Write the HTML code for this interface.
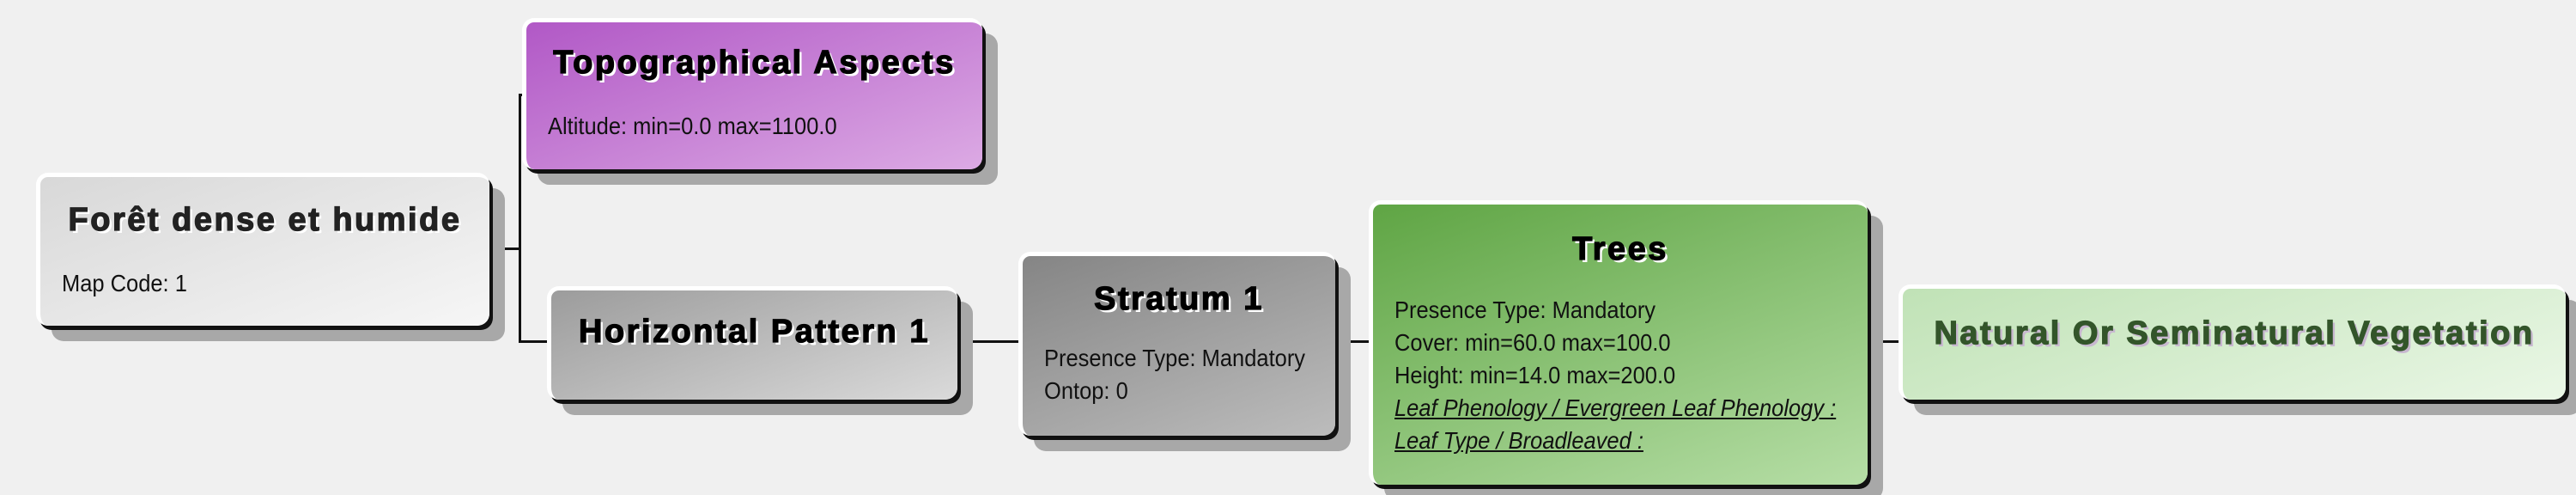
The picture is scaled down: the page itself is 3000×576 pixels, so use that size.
<!DOCTYPE html>
<html><head><meta charset="utf-8"><style>
body{margin:0;width:3000px;height:576px;background:#f0f0f0;position:relative;overflow:hidden;font-family:"Liberation Sans",sans-serif}
.b{position:absolute;border-radius:14px;border-top:5px solid #fff;border-left:5px solid #fff;box-sizing:border-box;box-shadow:4px 5px 0 #111,18px 18px 0 #a8a8a8}
.t{position:absolute;left:-20px;right:-20px;text-align:center;font-weight:bold;font-size:38px;letter-spacing:2.5px;-webkit-text-stroke:1.3px currentColor;color:#000;text-shadow:3px 3px 0 #fff}
.p{position:absolute;font-size:28px;color:#111;line-height:38px;transform:scaleX(0.91);transform-origin:0 0;white-space:nowrap}
.l{position:absolute;background:#111}
i{text-decoration:underline}
</style></head><body>
<div class="l" style="left:570px;top:288px;width:36px;height:3px"></div>
<div class="l" style="left:604px;top:109px;width:3px;height:290px"></div>
<div class="l" style="left:604px;top:109px;width:8px;height:3px"></div>
<div class="l" style="left:604px;top:396px;width:36px;height:3px"></div>
<div class="l" style="left:1115px;top:396px;width:75px;height:3px"></div>
<div class="l" style="left:1555px;top:396px;width:42px;height:3px"></div>
<div class="l" style="left:2175px;top:396px;width:40px;height:3px"></div>

<div class="b" style="left:42px;top:201px;width:528px;height:178px;background:linear-gradient(160deg,#d8d8d8,#f6f6f6)">
<div class="t" style="top:29px;color:#222">Forêt dense et humide</div>
<div class="p" style="left:25px;top:105px">Map Code: 1</div></div>

<div class="b" style="left:608px;top:21px;width:536px;height:176px;background:linear-gradient(160deg,#b158c6,#dcaae4)">
<div class="t" style="top:26px">Topographical Aspects</div>
<div class="p" style="left:25px;top:102px">Altitude: min=0.0 max=1100.0</div></div>

<div class="b" style="left:637px;top:333px;width:478px;height:132px;background:linear-gradient(160deg,#9c9c9c,#dadada)">
<div class="t" style="top:27px">Horizontal Pattern 1</div></div>

<div class="b" style="left:1186px;top:293px;width:369px;height:214px;background:linear-gradient(160deg,#858585,#bcbcbc)">
<div class="t" style="top:29px">Stratum 1</div>
<div class="p" style="left:25px;top:100px">Presence Type: Mandatory<br>Ontop: 0</div></div>

<div class="b" style="left:1594px;top:233px;width:581px;height:331px;background:linear-gradient(160deg,#5fa544,#b6dea6)">
<div class="t" style="top:31px">Trees</div>
<div class="p" style="left:25px;top:104px">Presence Type: Mandatory<br>Cover: min=60.0 max=100.0<br>Height: min=14.0 max=200.0<br><i>Leaf Phenology / Evergreen Leaf Phenology :</i><br><i>Leaf Type / Broadleaved :</i></div></div>

<div class="b" style="left:2211px;top:331px;width:777px;height:134px;background:linear-gradient(160deg,#c0e2b6,#eaf7e6)">
<div class="t" style="top:31px;color:#33552a;text-shadow:3px 3px 0 #c8b8d0">Natural Or Seminatural Vegetation</div></div>
</body></html>
